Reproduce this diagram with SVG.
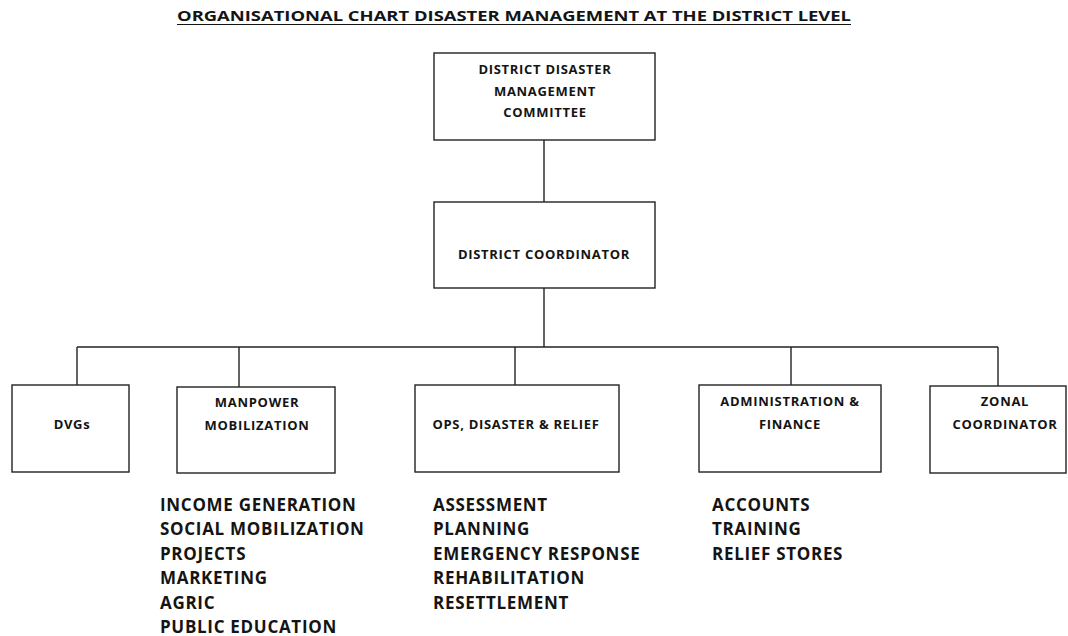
<svg xmlns="http://www.w3.org/2000/svg" width="1068" height="636" viewBox="0 0 1068 636">
<style>
.box{fill:#fff;stroke:#222;stroke-width:1.4}
.lbl{font-family:"Open Sans",Lato,sans-serif;font-weight:700;font-size:13px;fill:#141414;text-anchor:middle;letter-spacing:0.7px}
.lst{font-family:"Open Sans",Lato,sans-serif;font-weight:700;font-size:17px;fill:#141414;letter-spacing:0.7px}
.ttl{font-family:"Open Sans",Lato,sans-serif;font-weight:700;font-size:15px;fill:#141414}
.con{fill:none;stroke:#222;stroke-width:1.4}
</style>
<rect width="1068" height="636" fill="#fff"/>
<text class="ttl" x="177" y="21" textLength="674" lengthAdjust="spacingAndGlyphs">ORGANISATIONAL CHART DISASTER MANAGEMENT AT THE DISTRICT LEVEL</text>
<line x1="177" y1="24.5" x2="851" y2="24.5" stroke="#141414" stroke-width="1.2"/>
<g id="connectors">
<path class="con" d="M544 140V202"/>
<path class="con" d="M544 288V347"/>
<path class="con" d="M77 347H998"/>
<path class="con" d="M77 347V385"/>
<path class="con" d="M239 347V387"/>
<path class="con" d="M515 347V385"/>
<path class="con" d="M791 347V385"/>
<path class="con" d="M998 347V386"/>
</g>
<g id="ddmc">
<rect class="box" x="434" y="53" width="221" height="87"/>
<text class="lbl" x="545" y="74">DISTRICT DISASTER</text>
<text class="lbl" x="545" y="96">MANAGEMENT</text>
<text class="lbl" x="545" y="117">COMMITTEE</text>
</g>
<g id="coordinator">
<rect class="box" x="434" y="202" width="221" height="86"/>
<text class="lbl" x="544" y="259">DISTRICT COORDINATOR</text>
</g>
<g id="dvgs">
<rect class="box" x="12" y="385" width="117" height="87"/>
<text class="lbl" x="72" y="429">DVGs</text>
</g>
<g id="manpower">
<rect class="box" x="177" y="387" width="158" height="86"/>
<text class="lbl" x="257" y="407">MANPOWER</text>
<text class="lbl" x="257" y="430">MOBILIZATION</text>
</g>
<g id="ops">
<rect class="box" x="415" y="385" width="204" height="87"/>
<text class="lbl" x="516" y="429">OPS, DISASTER &amp; RELIEF</text>
</g>
<g id="admin">
<rect class="box" x="699" y="385" width="182" height="87"/>
<text class="lbl" x="790" y="406">ADMINISTRATION &amp;</text>
<text class="lbl" x="790" y="429">FINANCE</text>
</g>
<g id="zonal">
<rect class="box" x="930" y="386" width="136" height="87"/>
<text class="lbl" x="1005" y="406">ZONAL</text>
<text class="lbl" x="1005" y="429">COORDINATOR</text>
</g>
<g id="lists">
<text class="lst" x="160" y="510.5">INCOME GENERATION</text>
<text class="lst" x="160" y="535">SOCIAL MOBILIZATION</text>
<text class="lst" x="160" y="559.5">PROJECTS</text>
<text class="lst" x="160" y="584">MARKETING</text>
<text class="lst" x="160" y="608.5">AGRIC</text>
<text class="lst" x="160" y="633">PUBLIC EDUCATION</text>
<text class="lst" x="433" y="510.5">ASSESSMENT</text>
<text class="lst" x="433" y="535">PLANNING</text>
<text class="lst" x="433" y="559.5">EMERGENCY RESPONSE</text>
<text class="lst" x="433" y="584">REHABILITATION</text>
<text class="lst" x="433" y="608.5">RESETTLEMENT</text>
<text class="lst" x="712" y="510.5">ACCOUNTS</text>
<text class="lst" x="712" y="535">TRAINING</text>
<text class="lst" x="712" y="559.5">RELIEF STORES</text>
</g>
</svg>
